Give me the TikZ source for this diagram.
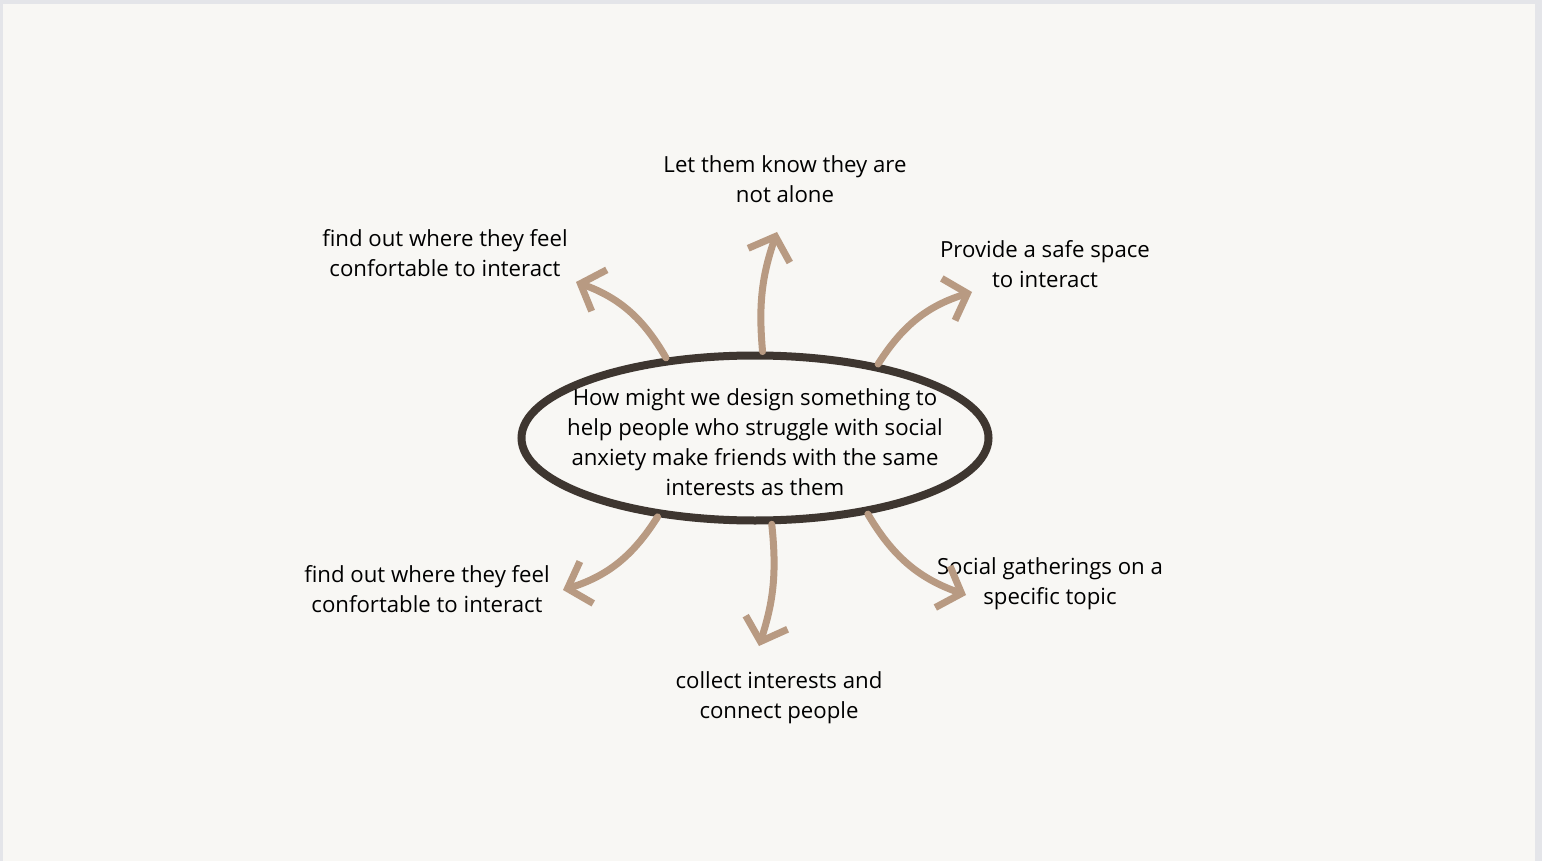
\documentclass[tikz,border=0pt]{standalone}
\usepackage{fontspec}
\setmainfont{Open Sans}
\usetikzlibrary{arrows.meta,shapes.geometric}

\definecolor{paper}{HTML}{F8F7F4}
\definecolor{frame}{HTML}{E4E5E9}
\definecolor{ink}{HTML}{3E3630}
\definecolor{tan}{HTML}{B89A82}

\begin{document}
\begin{tikzpicture}[x=0.5pt,y=0.5pt,>={Straight Barb[length=10pt,width=22pt]},
                    branch/.style={->,draw=tan,line width=3.5pt,line cap=round},
                    idea/.style={ellipse,draw=ink,line width=4pt,minimum width=233.5pt,
                                 minimum height=82.5pt,inner sep=0pt},
                    lbl/.style={align=center,inner sep=0pt},
                    font=\fontsize{11.1}{15}\selectfont]
  \useasboundingbox (0,0) rectangle (1542,-861);
  \fill[frame] (0,0) rectangle (1542,-861);
  \fill[paper] (3,-4) rectangle (1535,-861);

  \node[idea] (q) at (755,-438) {};
  \node[lbl] (qt) at (755,-442) {How might we design something to\\
    help people who struggle with social\\
    anxiety make friends with the same\\
    interests as them};

  \node[lbl] (t1) at (445,-253) {find out where they feel\\confortable to interact};
  \node[lbl] (t2) at (785,-179) {Let them know they are\\not alone};
  \node[lbl] (t3) at (1045,-264) {Provide a safe space\\to interact};
  \node[lbl] (t4) at (427,-589) {find out where they feel\\confortable to interact};
  \node[lbl] (t5) at (779,-698) {collect interests and\\connect people};
  \node[lbl] (t6) at (1050,-584) {Social gatherings on a\\specific topic};

  % arrow tips
  \coordinate (e1) at (576,-282);
  \coordinate (e2) at (777,-232);
  \coordinate (e3) at (972,-292);
  \coordinate (e4) at (563,-590);
  \coordinate (e5) at (759,-646);
  \coordinate (e6) at (966,-595);

  \path (q.138) edge[branch,bend right=20] (e1)
        (q.85)  edge[branch,bend left=12]  (e2)
        (q.31)  edge[branch,bend left=20]  (e3)
        (q.219) edge[branch,bend left=20]  (e4)
        (q.-79) edge[branch,bend left=12]  (e5)
        (q.-34) edge[branch,bend right=20] (e6);
\end{tikzpicture}
\end{document}
